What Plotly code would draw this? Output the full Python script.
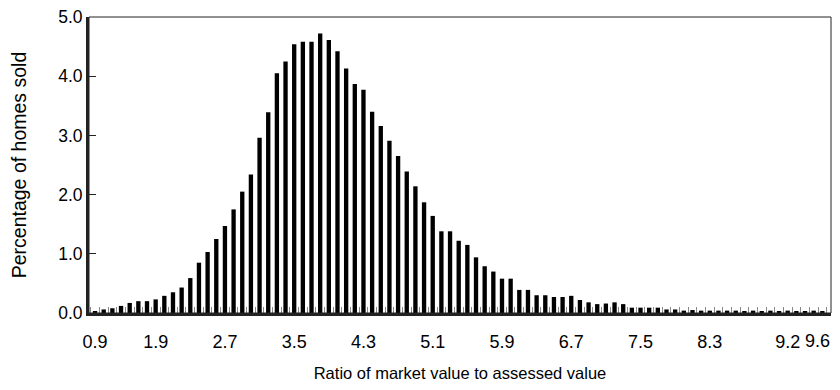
import plotly.graph_objects as go

# Bar categories (ratio of market value to assessed value)
ratio_labels = ["0.9"] + [f"{1.3 + 0.1 * k:.1f}" for k in range(84)]

# Percentage of homes sold per category
pct_sold = [
    0.03, 0.06, 0.08, 0.12, 0.17, 0.20, 0.20, 0.23, 0.29, 0.35,
    0.43, 0.59, 0.85, 1.03, 1.25, 1.47, 1.75, 2.05, 2.34, 2.96,
    3.39, 4.05, 4.25, 4.54, 4.58, 4.58, 4.72, 4.61, 4.42, 4.13,
    3.87, 3.77, 3.40, 3.16, 2.91, 2.65, 2.39, 2.14, 1.87, 1.64,
    1.38, 1.38, 1.22, 1.15, 0.94, 0.79, 0.70, 0.58, 0.58, 0.39,
    0.39, 0.30, 0.30, 0.27, 0.27, 0.29, 0.22, 0.18, 0.15, 0.16,
    0.18, 0.15, 0.09, 0.09, 0.09, 0.09, 0.06, 0.06, 0.04, 0.05,
    0.04, 0.04, 0.04, 0.04, 0.04, 0.03, 0.04, 0.03, 0.04, 0.03,
    0.04, 0.03, 0.02, 0.04, 0.03,
]

# Axis tick labels
x_tick_labels = ["0.9", "1.9", "2.7", "3.5", "4.3", "5.1", "5.9", "6.7", "7.5", "8.3", "9.2", "9.6"]
y_tick_values = [0, 1, 2, 3, 4, 5]

x_idx = list(range(len(ratio_labels)))
# the right-most label sits against the page edge, so it is right-aligned there
axis_labels = x_tick_labels[:-1]
edge_label = x_tick_labels[-1]
tick_idx = [ratio_labels.index(t) for t in axis_labels]

FONT = "Liberation Sans, Arial, sans-serif"

fig = go.Figure(
    go.Bar(
        x=x_idx,
        y=pct_sold,
        marker=dict(color="#000000", line=dict(width=0)),
        customdata=ratio_labels,
        hovertemplate="Ratio %{customdata}: %{y:.2f}%<extra></extra>",
    )
)

fig.update_layout(
    width=824,
    height=374,
    margin=dict(l=81, r=1, t=9, b=69),
    paper_bgcolor="white",
    plot_bgcolor="white",
    bargap=0.5,
    showlegend=False,
    font=dict(family=FONT, size=16, color="#000000"),
    shapes=[
        dict(type="rect", xref="paper", yref="paper", x0=0, y0=0, x1=1, y1=1,
             line=dict(color="#222222", width=1), layer="above"),
    ],
    annotations=[
        dict(text=edge_label, x=1, xref="paper", y=0, yref="paper",
             xanchor="right", yanchor="middle", yshift=-28, borderpad=0,
             showarrow=False, font=dict(size=18, family=FONT, color="#000000")),
    ],
)

fig.update_xaxes(
    automargin=False,
    range=[-0.7, len(ratio_labels)],
    tickmode="array",
    tickvals=tick_idx,
    ticktext=axis_labels,
    ticks="",
    ticklabelstandoff=10,
    showgrid=False,
    zeroline=False,
    showline=True,
    linecolor="#222222",
    linewidth=3,
    tickfont=dict(size=18),
    minor=dict(tickmode="linear", tick0=-0.5, dtick=1, ticks="inside",
               ticklen=6, tickwidth=1, tickcolor="#888888", showgrid=False),
    title=dict(text="Ratio of market value to assessed value", font=dict(size=16.5), standoff=22),
)

fig.update_yaxes(
    automargin=False,
    range=[0, 5],
    tickmode="array",
    tickvals=y_tick_values,
    tickformat=".1f",
    ticks="inside",
    ticklen=7,
    tickwidth=1,
    tickcolor="#222222",
    ticklabeloverflow="allow",
    showgrid=False,
    zeroline=False,
    showline=True,
    linecolor="#222222",
    linewidth=3,
    tickfont=dict(size=17.5),
    title=dict(text="Percentage of homes sold", font=dict(size=19.5), standoff=30),
)

fig.write_html("out.html")
